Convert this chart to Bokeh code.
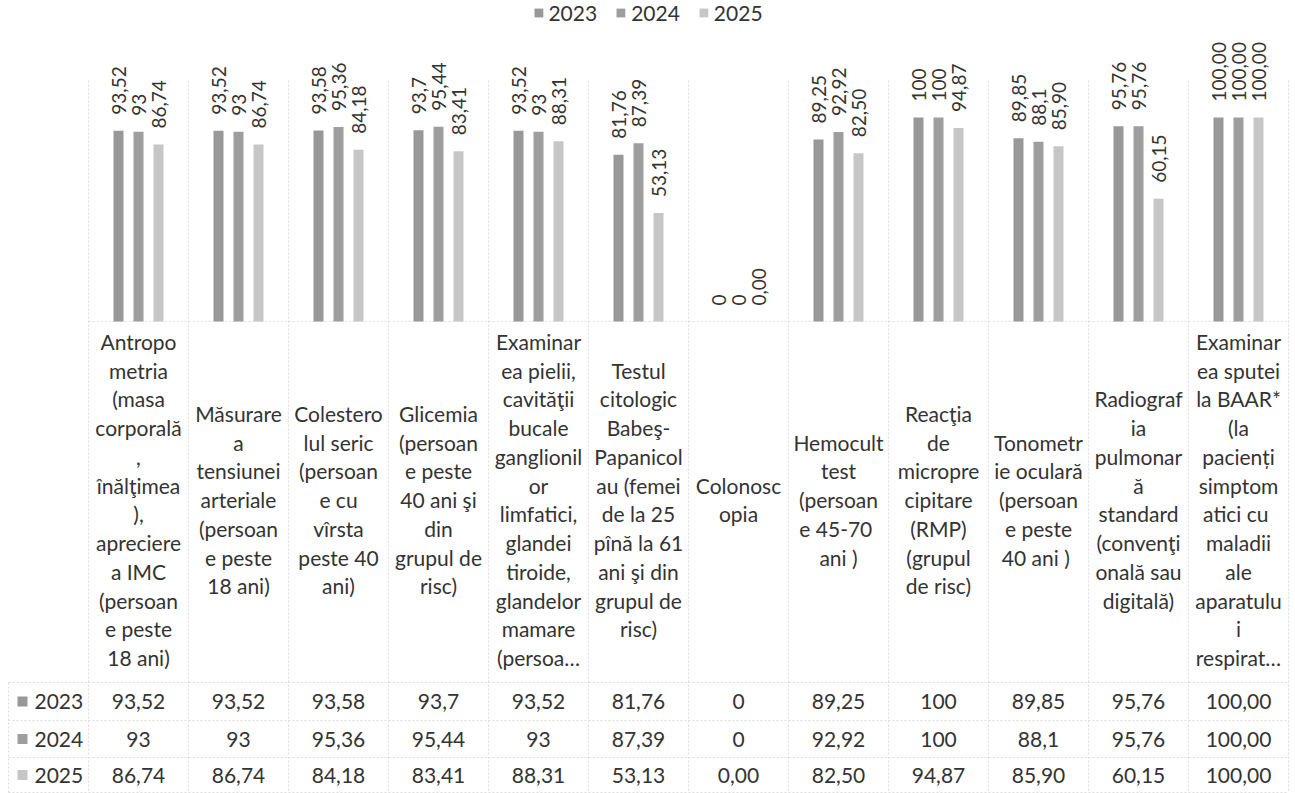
import numpy as np
from bokeh.plotting import figure
from bokeh.models import Range1d, ColumnDataSource, Legend, LegendItem
from bokeh.core.properties import value
from bokeh.embed import file_html
from bokeh.resources import INLINE

# ---------------- data ----------------
categories = [
    "Antropo\nmetria\n(masa\ncorporală\n,\nînălţimea\n),\napreciere\na IMC\n(persoan\ne peste\n18 ani)",
    "Măsurare\na\ntensiunei\narteriale\n(persoan\ne peste\n18 ani)",
    "Colestero\nlul seric\n(persoan\ne cu\nvîrsta\npeste 40\nani)",
    "Glicemia\n(persoan\ne peste\n40 ani şi\ndin\ngrupul de\nrisc)",
    "Examinar\nea pielii,\ncavităţii\nbucale\nganglionil\nor\nlimfatici,\nglandei\ntiroide,\nglandelor\nmamare\n(persoa…",
    "Testul\ncitologic\nBabeş-\nPapanicol\nau (femei\nde la 25\npînă la 61\nani şi din\ngrupul de\nrisc)",
    "Colonosc\nopia",
    "Hemocult\ntest\n(persoan\ne  45-70\nani )",
    "Reacţia\nde\nmicropre\ncipitare\n(RMP)\n(grupul\nde risc)",
    "Tonometr\nie oculară\n(persoan\ne peste\n40 ani  )",
    "Radiograf\nia\npulmonar\nă\nstandard\n(convenţi\nonală sau\ndigitală)",
    "Examinar\nea sputei\nla BAAR*\n(la\npacienți\nsimptom\natici  cu\nmaladii\nale\naparatulu\ni\nrespirat…",
]
years = ["2023", "2024", "2025"]
v2023 = [93.52, 93.52, 93.58, 93.7, 93.52, 81.76, 0, 89.25, 100, 89.85, 95.76, 100.00]
v2024 = [93, 93, 95.36, 95.44, 93, 87.39, 0, 92.92, 100, 88.1, 95.76, 100.00]
v2025 = [86.74, 86.74, 84.18, 83.41, 88.31, 53.13, 0.00, 82.50, 94.87, 85.90, 60.15, 100.00]
t2023 = ["93,52", "93,52", "93,58", "93,7", "93,52", "81,76", "0", "89,25", "100", "89,85", "95,76", "100,00"]
t2024 = ["93", "93", "95,36", "95,44", "93", "87,39", "0", "92,92", "100", "88,1", "95,76", "100,00"]
t2025 = ["86,74", "86,74", "84,18", "83,41", "88,31", "53,13", "0,00", "82,50", "94,87", "85,90", "60,15", "100,00"]
colors = ["#989898", "#9e9e9e", "#c6c6c6"]

# ---------------- layout ----------------
W, H = 1295, 793
COL = 100.0              # px per category column
LEFT_PX = 88             # left edge of first category column
BASE_PX = 321            # baseline, px from top
PX_PER = 2.04            # px per value unit
FONT = value("Lato")
TXT = "#333333"
GRID = "#dddddd"


def ydata(px):
    return (BASE_PX - px) / PX_PER


def xdata(px):
    return (px - LEFT_PX) / COL


p = figure(width=W, height=H, x_range=Range1d(xdata(0), xdata(W)),
           y_range=Range1d(ydata(H), ydata(0)),
           output_backend="svg", toolbar_location=None,
           x_axis_location=None, y_axis_location=None,
           min_border=0, outline_line_color=None)
p.xgrid.visible = False
p.ygrid.visible = False
p.background_fill_color = "white"
p.border_fill_color = "white"

# ---- table / grid lines ----
row_tops = [682, 720, 757, 792]
borders = list(range(13))
p.segment(x0=borders, x1=borders, y0=[ydata(80)] * 13, y1=[ydata(792)] * 13,
          line_color=GRID, line_width=1, line_dash="2 2")
p.segment(x0=[xdata(8)], x1=[xdata(8)], y0=[ydata(682)], y1=[ydata(792)],
          line_color=GRID, line_width=1, line_dash="2 2")
p.segment(x0=[0], x1=[12], y0=[0], y1=[0], line_color=GRID, line_width=1, line_dash="2 2")
p.segment(x0=[xdata(8)] * 4, x1=[12] * 4, y0=[ydata(t) for t in row_tops],
          y1=[ydata(t) for t in row_tops], line_color=GRID, line_width=1, line_dash="2 2")

# ---- bars + rotated labels ----
x_idx = np.arange(len(categories)) + 0.5
offsets = [-0.2, 0.0, 0.2]
series_vals = [v2023, v2024, v2025]
series_txt = [t2023, t2024, t2025]
renderers = []
for yr, vals, txts, col, off in zip(years, series_vals, series_txt, colors, offsets):
    src = ColumnDataSource(dict(x=x_idx + off, top=vals, label=txts))
    r = p.vbar(x="x", top="top", bottom=0, width=0.1, source=src,
               fill_color=col, line_color=None)
    renderers.append(r)
    p.text(x="x", y="top", text="label", source=src, angle=np.pi / 2,
           text_align="left", text_baseline="middle", y_offset=-16,
           text_font=FONT, text_font_size="19px", text_color=TXT)

# ---- category labels ----
p.text(x=list(x_idx), y=[ydata(499)] * len(categories), text=categories,
       text_align="center", text_baseline="middle", text_font=FONT,
       text_font_size="21px", text_line_height=1.15, text_color=TXT)

# ---- data table rows ----
row_centers = [(row_tops[i] + row_tops[i + 1]) / 2 for i in range(3)]
for yr, txts, col, rc in zip(years, series_txt, colors, row_centers):
    yc = ydata(rc)
    p.text(x=list(x_idx), y=[yc] * len(txts), text=txts, text_align="center",
           text_baseline="middle", text_font=FONT, text_font_size="21px",
           text_color=TXT)
    p.scatter(x=[xdata(22)], y=[yc], marker="square", size=10,
              fill_color=col, line_color=None)
    p.text(x=[xdata(34)], y=[yc], text=[yr], text_align="left",
           text_baseline="middle", text_font=FONT, text_font_size="21px",
           text_color=TXT)

# ---- legend ----
legend = Legend(items=[LegendItem(label=yr, renderers=[r]) for yr, r in zip(years, renderers)],
                location="top_center", orientation="horizontal",
                label_text_font="Lato", label_text_font_size="21px",
                label_text_color=TXT, glyph_width=11, glyph_height=11,
                spacing=18, padding=7, margin=0, label_standoff=5,
                border_line_color=None, background_fill_alpha=0)
p.add_layout(legend)

open("out.html", "w").write(file_html(p, INLINE))
